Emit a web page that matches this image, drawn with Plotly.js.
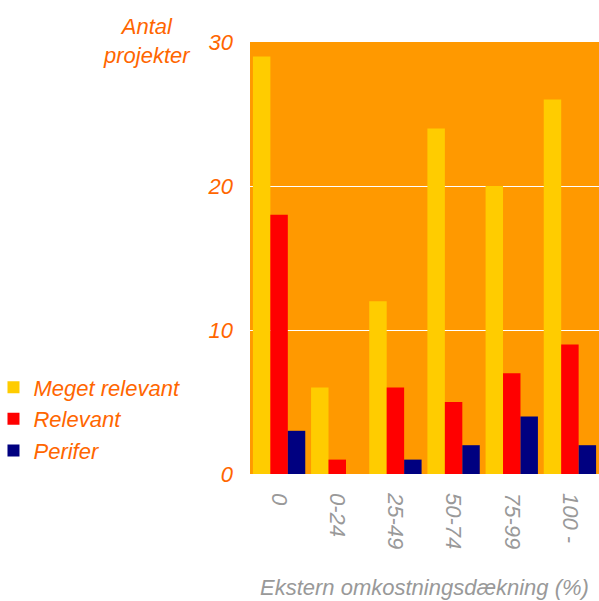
<!DOCTYPE html>
<html>
<head>
<meta charset="utf-8">
<script src="https://cdn.plot.ly/plotly-3.0.1.min.js"></script>
<style>html,body{margin:0;padding:0;background:#fff;}</style>
</head>
<body>
<div id="chart" style="width:599px;height:601px;"></div>
<script>
const categories = ["0", "0-24", "25-49", "50-74", "75-99", "100 -"];
const megetRelevant = [29, 6, 12, 24, 20, 26];
const relevant = [18, 1, 6, 5, 7, 9];
const perifer = [3, 0, 1, 2, 4, 2];
const seriesNames = ["Meget relevant", "Relevant", "Perifer"];

const fam = "Liberation Sans, Arial, sans-serif";
const fs = 22;

const traces = [
  {type: "bar", name: seriesNames[0], x: categories, y: megetRelevant, marker: {color: "#FFCC00"}},
  {type: "bar", name: seriesNames[1], x: categories, y: relevant, marker: {color: "#FF0000"}},
  {type: "bar", name: seriesNames[2], x: categories, y: perifer, marker: {color: "#000080"}}
];

const layout = {
  width: 599, height: 601,
  margin: {l: 250, r: 0, t: 42, b: 127, pad: 0, autoexpand: false},
  paper_bgcolor: "#FFFFFF",
  plot_bgcolor: "#FF9900",
  barmode: "group",
  bargap: 0.1,
  bargroupgap: 0,
  font: {family: fam, size: fs, color: "#FF6600", style: "italic"},
  showlegend: true,
  legend: {
    x: -0.735, xanchor: "left", y: 0.249, yanchor: "top",
    font: {family: fam, size: fs, color: "#FF6600", style: "italic"},
    bgcolor: "rgba(0,0,0,0)", itemwidth: 30, tracegroupgap: 0
  },
  xaxis: {
    type: "category",
    tickangle: 90,
    tickfont: {family: fam, size: fs, color: "#999999", style: "italic"},
    ticks: "", showline: false, showgrid: false, zeroline: false,
    ticklabelstandoff: 18, automargin: false
  },
  yaxis: {
    range: [0, 30], dtick: 10, tick0: 0,
    tickfont: {family: fam, size: fs, color: "#FF6600", style: "italic"},
    ticks: "", showline: false, showgrid: true, gridcolor: "#FFFFFF", gridwidth: 1,
    zeroline: false, ticklabelstandoff: 16, automargin: false
  },
  annotations: [
    {text: "Antal<br>projekter", xref: "paper", yref: "paper", x: -0.295, y: 1.003,
     xanchor: "center", yanchor: "middle", showarrow: false,
     font: {family: fam, size: fs, color: "#FF6600", style: "italic"}},
    {text: "Ekstern omkostningsdækning (%)", xref: "paper", yref: "paper", x: 0.5, y: -0.262,
     xanchor: "center", yanchor: "middle", showarrow: false,
     font: {family: fam, size: fs, color: "#999999", style: "italic"}}
  ]
};

Plotly.newPlot("chart", traces, layout, {displayModeBar: false, staticPlot: true});
</script>
</body>
</html>
